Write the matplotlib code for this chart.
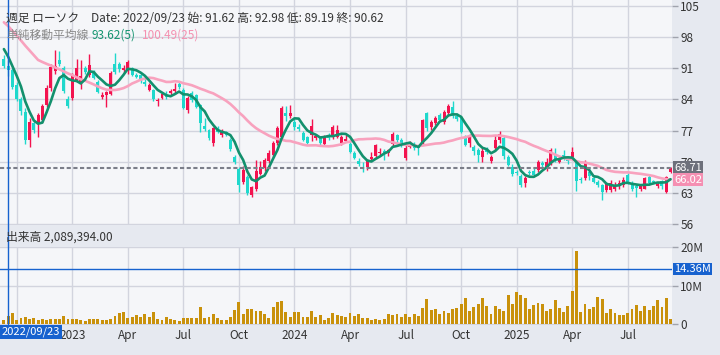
import numpy as np
import pandas as pd
import matplotlib
matplotlib.use('Agg')
import matplotlib.pyplot as plt
from matplotlib.lines import Line2D

plt.rcParams['font.family'] = ['Noto Sans CJK JP', 'DejaVu Sans']

# weekly candles, first week ending 2022-09-16
start_date = '2022-09-16'

open_ = [93.2, 91.62, 90.6, 87.2, 84.0, 81.2, 74.8, 78.7, 78.4, 79.5,
         82.8, 86.5, 90.4, 92.9, 91.0, 84.0, 84.3, 88.4, 87.6, 91.1,
         89.5, 90.0, 88.0, 84.6, 85.0, 85.3, 92.0, 92.0, 90.6, 90.4,
         91.0, 89.5, 89.4, 88.0, 86.2, 86.1, 83.6, 84.3, 85.0, 85.4,
         86.0, 87.4, 86.1, 81.6, 85.4, 85.0, 82.8, 78.0, 77.1, 74.2,
         77.5, 76.0, 76.6, 74.9, 71.0, 68.3, 65.5, 66.6, 62.5, 64.0,
         67.3, 68.5, 70.2, 71.5, 74.2, 75.5, 80.9, 80.3, 79.0, 77.8,
         76.5, 75.6, 76.0, 75.3, 75.3, 74.0, 76.0, 75.6, 75.6, 74.2,
         74.6, 74.1, 71.9, 70.2, 68.9, 68.9, 70.6, 71.2, 71.9, 72.5,
         72.0, 74.0, 76.0, 75.0, 70.8, 73.4, 73.8, 73.3, 74.5, 80.9,
         77.9, 78.7, 80.6, 79.0, 80.9, 82.4, 80.4, 79.8, 75.6, 74.2,
         73.4, 72.6, 71.0, 72.8, 70.2, 73.0, 74.8, 75.4, 71.1, 68.9,
         67.8, 66.8, 65.2, 67.8, 67.9, 68.1, 69.8, 68.5, 69.6, 71.6,
         70.0, 71.6, 70.8, 71.1, 70.0, 66.2, 66.3, 67.8, 66.3, 65.5,
         64.8, 63.7, 63.7, 63.8, 64.9, 64.8, 67.0, 65.2, 64.6, 63.9,
         64.0, 66.6, 65.6, 64.6, 65.6, 63.3, 67.8]
high = [94.0, 92.98, 91.0, 88.0, 84.5, 82.0, 79.8, 79.3, 81.0, 83.0,
        87.2, 92.0, 95.1, 94.8, 91.6, 84.8, 89.9, 93.2, 92.9, 91.6,
        94.3, 90.6, 88.4, 85.6, 86.0, 90.3, 94.5, 92.5, 91.8, 92.8,
        91.4, 90.0, 89.8, 88.8, 87.6, 86.4, 84.4, 85.5, 86.0, 86.3,
        87.8, 88.2, 86.5, 84.8, 86.0, 85.3, 83.0, 79.8, 77.4, 77.9,
        78.0, 77.3, 77.0, 75.3, 71.5, 68.8, 69.0, 67.0, 64.6, 70.5,
        70.2, 70.8, 72.6, 74.6, 78.0, 82.5, 82.6, 82.7, 79.6, 78.4,
        77.0, 75.8, 79.6, 76.3, 75.9, 76.0, 76.4, 78.3, 78.3, 76.0,
        76.0, 74.6, 72.4, 70.8, 70.0, 70.6, 72.3, 73.9, 73.0, 72.9,
        72.8, 76.8, 76.3, 75.4, 73.8, 74.6, 74.5, 73.5, 79.6, 81.2,
        79.4, 80.2, 80.9, 81.6, 83.0, 83.6, 81.0, 80.2, 76.0, 76.2,
        73.8, 73.0, 73.2, 73.4, 71.5, 76.0, 77.0, 75.8, 71.6, 69.4,
        68.2, 67.2, 66.8, 68.2, 68.5, 70.4, 70.2, 70.8, 73.0, 73.0,
        71.2, 72.6, 71.2, 73.4, 70.4, 66.6, 70.4, 68.6, 66.8, 65.8,
        65.0, 65.2, 65.8, 65.5, 65.9, 66.6, 67.4, 65.6, 64.9, 64.8,
        66.6, 67.0, 66.0, 65.4, 65.9, 66.8, 68.9]
low = [91.0, 89.19, 86.3, 83.6, 80.5, 74.0, 73.4, 76.5, 75.6, 79.0,
       82.2, 86.0, 89.8, 91.5, 85.4, 82.0, 83.8, 88.0, 86.3, 89.8,
       89.0, 88.5, 85.4, 84.0, 82.4, 85.0, 89.8, 90.2, 90.0, 89.8,
       89.2, 88.8, 87.8, 87.0, 85.8, 83.6, 82.5, 84.0, 84.2, 85.0,
       85.2, 86.3, 81.8, 81.0, 83.5, 82.0, 76.7, 77.0, 75.0, 73.6,
       76.4, 75.5, 75.8, 72.4, 69.5, 63.2, 65.0, 62.6, 62.0, 63.4,
       67.0, 68.0, 69.8, 71.0, 73.8, 75.2, 79.2, 79.8, 77.2, 76.9,
       74.6, 74.0, 74.6, 74.8, 73.8, 73.6, 75.0, 75.2, 75.3, 73.8,
       74.4, 72.0, 70.6, 69.0, 67.8, 68.2, 70.2, 70.8, 71.6, 70.4,
       71.4, 73.6, 74.2, 73.3, 70.4, 73.2, 72.6, 71.5, 74.0, 76.9,
       77.2, 78.2, 79.0, 78.6, 80.5, 79.8, 79.2, 76.4, 73.5, 73.4,
       71.5, 70.0, 70.0, 71.8, 69.8, 72.6, 74.2, 70.6, 69.0, 66.8,
       67.0, 64.4, 64.4, 67.0, 66.8, 67.8, 68.8, 68.0, 69.2, 70.0,
       69.8, 70.4, 69.6, 70.6, 63.4, 65.2, 66.0, 66.0, 65.2, 64.4,
       61.4, 63.3, 63.3, 63.5, 64.0, 64.4, 64.9, 63.4, 62.2, 63.5,
       63.8, 65.0, 64.9, 64.2, 64.0, 63.0, 67.4]
close = [91.6, 90.62, 86.8, 84.2, 81.3, 74.9, 79.0, 77.1, 80.5, 82.5,
         86.6, 91.4, 91.6, 92.0, 85.8, 82.5, 89.5, 91.0, 89.2, 90.2,
         91.7, 88.8, 85.7, 85.0, 85.7, 90.0, 90.2, 90.8, 91.0, 92.4,
         89.5, 89.1, 88.2, 87.4, 87.2, 84.0, 83.9, 85.2, 84.5, 86.0,
         86.4, 86.8, 82.1, 84.3, 83.9, 82.3, 78.7, 77.4, 75.3, 77.6,
         76.8, 76.6, 76.1, 72.9, 70.0, 64.8, 68.1, 63.0, 64.3, 68.0,
         68.8, 70.4, 72.0, 74.3, 77.6, 82.0, 80.4, 81.0, 77.8, 77.3,
         74.9, 74.3, 78.1, 75.8, 74.2, 75.5, 75.4, 77.9, 77.2, 75.6,
         75.2, 72.2, 70.8, 69.6, 68.5, 70.4, 71.0, 73.8, 72.3, 71.8,
         72.6, 76.3, 74.8, 73.8, 73.0, 73.6, 73.2, 73.0, 79.4, 77.6,
         79.0, 79.8, 79.5, 81.2, 82.5, 80.3, 79.7, 76.8, 73.8, 75.6,
         72.4, 71.5, 72.4, 72.2, 71.1, 75.0, 76.2, 71.2, 69.3, 67.2,
         67.4, 64.8, 66.4, 67.4, 67.1, 70.0, 69.2, 70.0, 72.6, 70.6,
         70.6, 71.0, 70.2, 72.3, 65.6, 65.9, 70.0, 66.8, 65.5, 64.8,
         63.3, 65.0, 65.2, 64.8, 65.3, 65.9, 65.2, 64.0, 64.1, 64.6,
         66.3, 65.3, 65.5, 65.0, 64.6, 66.6, 68.71]

# closes of the 24 weeks before the window (estimated, only feed the moving averages)
pre_close = [112.0, 114.0, 111.0, 108.0, 104.0, 106.0, 104.0, 107.0, 94.0, 97.0,
             101.0, 102.0, 103.0, 97.0, 94.0, 99.0, 103.0, 101.0, 98.0, 102.0,
             99.1, 97.5, 95.0, 93.4]

# volume in millions of shares
volume_m = [0.95, 2.09, 2.77, 1.04, 1.65, 1.73, 1.21, 1.65, 1.13, 1.39,
            1.13, 1.21, 1.30, 1.39, 1.99, 1.21, 1.21, 1.21, 1.04, 0.69,
            1.39, 1.21, 1.21, 0.95, 0.95, 1.21, 1.99, 2.77, 3.03, 1.65,
            1.91, 2.34, 1.73, 2.51, 1.82, 3.03, 1.39, 1.04, 1.73, 1.21,
            1.04, 0.69, 1.47, 1.47, 1.47, 1.47, 4.42, 1.65, 1.82, 2.60,
            1.47, 1.04, 1.13, 1.73, 3.55, 5.63, 2.68, 3.81, 3.81, 3.29,
            3.29, 2.51, 1.47, 4.33, 5.63, 5.89, 3.20, 1.73, 3.03, 3.03,
            1.73, 1.73, 3.29, 1.73, 2.34, 0.95, 1.47, 2.77, 2.25, 2.16,
            1.73, 2.77, 1.99, 2.60, 1.47, 1.47, 0.95, 1.21, 1.04, 1.21,
            2.51, 2.25, 2.51, 1.73, 2.51, 1.90, 2.51, 2.08, 4.07, 6.41,
            3.55, 3.81, 2.51, 3.29, 2.77, 3.81, 4.07, 5.11, 6.67, 3.29,
            4.33, 5.11, 6.67, 4.59, 2.51, 4.59, 3.81, 3.29, 7.45, 5.11,
            8.23, 7.45, 6.67, 3.81, 4.85, 5.37, 5.11, 3.29, 3.81, 6.15,
            4.07, 3.03, 4.59, 8.48, 18.9, 3.03, 5.11, 3.81, 4.33, 6.93,
            6.41, 2.77, 3.81, 2.77, 2.25, 2.25, 2.77, 3.81, 4.85, 3.29,
            4.59, 3.55, 4.59, 6.15, 4.33, 6.67, 1.21]

price_ticks = [56, 63, 70, 77, 84, 91, 98, 105]
cursor_idx = 1          # 2022/09/23
cursor_volume = 14.36

n = len(close)
dates = pd.date_range(start_date, periods=n, freq='W-FRI')
all_close = pd.Series(pre_close + close)
ma5 = all_close.rolling(5).mean().values[len(pre_close):]
ma25 = all_close.rolling(25).mean().values[len(pre_close):]

BG = '#e6e9f0'
PLOT_BG = '#f5f6f9'
GRID = '#d2d4de'
UP = '#f3134f'
DOWN = '#1fd8cc'
BLUE = '#1762cf'
TXT = '#333333'

# month ticks: first candle of Jan/Apr/Jul/Oct
tick_pos, tick_lab = [], []
for i, d in enumerate(dates):
    if d.month in (1, 4, 7, 10) and (i == 0 or dates[i - 1].month != d.month):
        tick_pos.append(i)
        tick_lab.append(str(d.year) if d.month == 1 else d.strftime('%b'))

fig = plt.figure(figsize=(7.2, 3.55), dpi=100, facecolor=BG)
W, H = 720.0, 355.0
ax = fig.add_axes([0, 130 / H, 672 / W, 225 / H])
axv = fig.add_axes([0, 30 / H, 672 / W, 78 / H])

for a in (ax, axv):
    a.set_facecolor(PLOT_BG)
    a.set_xlim(-0.91, 156.35)
    for s in a.spines.values():
        s.set_visible(False)
    a.yaxis.tick_right()
    a.tick_params(axis='y', length=4, width=1, color='#a0a3ad', labelsize=8.5,
                  labelcolor=TXT, pad=2)
    a.tick_params(axis='x', length=0, labelsize=8.5, labelcolor=TXT, pad=3)
    a.set_xticks(tick_pos)
    a.grid(True, color=GRID, linewidth=1)
    a.set_axisbelow(True)

ax.set_xticklabels([])
axv.set_xticklabels(tick_lab)

# candles
x = np.arange(n)
o = np.array(open_)
c = np.array(close)
cols = [UP if c[i] >= o[i] else DOWN for i in range(n)]
bottom = np.minimum(o, c)
height = np.maximum(np.abs(c - o), 0.2)
ax.vlines(x, low, high, colors=cols, linewidth=1)
ax.bar(x, height, bottom=bottom, width=0.7, color=cols, linewidth=0)

ax.plot(x, ma25, color='#f8a2be', linewidth=1.9, solid_capstyle='round')
ax.plot(x, ma5, color='#13906d', linewidth=1.9, solid_capstyle='round')
ax.axhline(close[-1], color='#7b7e89', linewidth=1.5, linestyle=(0, (2, 1.2)))

ax.set_ylim(55.8, 106.35)
ax.set_yticks(price_ticks)
ax.set_yticklabels([str(t) for t in price_ticks])

# right-hand value tags
def tag(a, yv, s, fc):
    a.text(1.003, yv, s, transform=a.get_yaxis_transform(), ha='left', va='center',
           fontsize=8, color='white', clip_on=False, zorder=10,
           bbox=dict(boxstyle='square,pad=0.12', fc=fc, ec='none'))

tag(ax, close[-1], '%.2f' % close[-1], '#6d707b')
tag(ax, ma25[-1], '%.2f' % ma25[-1], '#f58fb2')

# volume
axv.bar(x, volume_m, width=0.68, color='#c9910b', linewidth=0)
axv.set_ylim(-0.26, 20.05)
axv.set_yticks([0, 10, 20])
axv.set_yticklabels(['0', '10M', '20M'])
axv.axhline(cursor_volume, color=BLUE, linewidth=1)
tag(axv, cursor_volume, '%.2fM' % cursor_volume, BLUE)

# crosshair vertical line through both panels
fig.canvas.draw()
xf = ax.transData.transform((cursor_idx, 60))[0] / W
fig.add_artist(Line2D([xf, xf], [1 - 326 / H, 1], transform=fig.transFigure,
                      color=BLUE, linewidth=1))
fig.text(1.5 / W, 1 - 332 / H, dates[cursor_idx].strftime('%Y/%m/%d'), ha='left',
         va='center', fontsize=8, color='white', zorder=10,
         bbox=dict(boxstyle='square,pad=0.15', fc=BLUE, ec='none'))

# header texts
i = cursor_idx
fig.text(6 / W, 1 - 18 / H, '週足 ローソク', fontsize=8.5, color=TXT, va='center')
fig.text(91 / W, 1 - 18 / H,
         'Date: %s 始: %.2f 高: %.2f 低: %.2f 終: %.2f' % (
             dates[i].strftime('%Y/%m/%d'), open_[i], high[i], low[i], close[i]),
         fontsize=8.5, color=TXT, va='center')
fig.text(6 / W, 1 - 35 / H, '単純移動平均線', fontsize=8.5, color='#8a8a8a', va='center')
fig.text(92 / W, 1 - 35 / H, '%.2f(5)' % ma5[i], fontsize=8.5, color='#14946f', va='center')
fig.text(142 / W, 1 - 35 / H, '%.2f(25)' % ma25[i], fontsize=8.5, color='#f490b0', va='center')
fig.text(6 / W, 1 - 237 / H, '出来高 {:,.2f}'.format(2089394), fontsize=8.5, color=TXT,
         va='center')

fig.savefig('out.png', dpi=100, facecolor=BG)
